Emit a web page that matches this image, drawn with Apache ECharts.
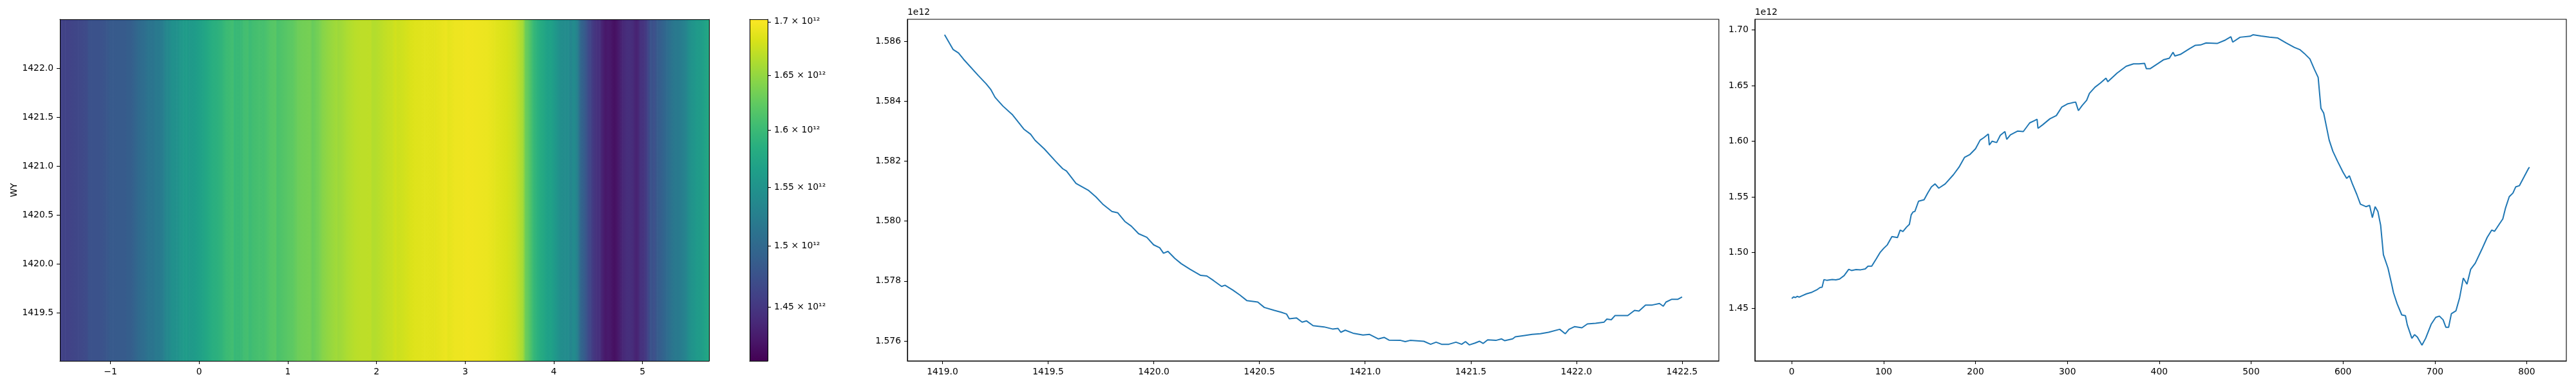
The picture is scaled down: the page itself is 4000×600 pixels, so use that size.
<!DOCTYPE html>
<html><head><meta charset="utf-8">
<script src="https://cdn.jsdelivr.net/npm/echarts@6/dist/echarts.min.js"></script>
<style>html,body{margin:0;padding:0;background:#fff}#c{width:4000px;height:600px}</style>
</head><body><div id="c"></div>
<script>
// ---- Column profile (right panel; also the heatmap's columns) ----
const colIndex = [0,2,4,6,8,11,16,22,27,31,33,35,38,44,48,52,57,62,65,70,75,80,83,87,92,96,100,104,109,113,115,118,121,125,128,130,132,134,138,144,148,152,156,160,167,176,182,188,194,200,205,209,214,215,218,223,227,232,234,238,246,252,259,264,267,268,273,281,288,294,300,305,309,312,316,321,324,330,336,342,344,354,364,372,378,384,386,390,399,405,411,415,417,423,433,439,445,451,463,472,478,480,488,499,502,511,520,529,538,547,553,558,564,569,573,576,579,585,589,594,600,604,607,610,615,619,625,629,632,635,638,641,644,649,653,655,656,659,664,668,670,675,678,681,686,690,696,701,705,709,712,715,718,723,727,731,735,739,744,751,757,762,765,770,774,777,781,785,788,792,797,802,803];
const colValues = [1.4588e12,1.4603e12,1.4597e12,1.4608e12,1.4600e12,1.4612e12,1.4630e12,1.4645e12,1.4665e12,1.4688e12,1.4690e12,1.4758e12,1.4752e12,1.4758e12,1.4756e12,1.4763e12,1.4794e12,1.4850e12,1.4840e12,1.4848e12,1.4846e12,1.4854e12,1.4878e12,1.4878e12,1.4945e12,1.5000e12,1.5038e12,1.5070e12,1.5144e12,1.5138e12,1.5135e12,1.5203e12,1.5190e12,1.5230e12,1.5254e12,1.5340e12,1.5365e12,1.5370e12,1.5462e12,1.5475e12,1.5535e12,1.5590e12,1.5617e12,1.5579e12,1.5617e12,1.5700e12,1.5767e12,1.5855e12,1.5882e12,1.5933e12,1.6010e12,1.6032e12,1.6065e12,1.5966e12,1.6000e12,1.5988e12,1.6054e12,1.6087e12,1.6017e12,1.6058e12,1.6092e12,1.6087e12,1.6165e12,1.6185e12,1.6198e12,1.6116e12,1.6147e12,1.6202e12,1.6231e12,1.6308e12,1.6335e12,1.6345e12,1.6352e12,1.6275e12,1.6320e12,1.6368e12,1.6430e12,1.6485e12,1.6523e12,1.6567e12,1.6535e12,1.6611e12,1.6673e12,1.6695e12,1.6695e12,1.6700e12,1.6651e12,1.6651e12,1.6700e12,1.6733e12,1.6746e12,1.6799e12,1.6766e12,1.6780e12,1.6832e12,1.6861e12,1.6865e12,1.6883e12,1.6878e12,1.6909e12,1.6938e12,1.6890e12,1.6934e12,1.6943e12,1.6956e12,1.6945e12,1.6935e12,1.6927e12,1.6883e12,1.6843e12,1.6823e12,1.6788e12,1.6739e12,1.6644e12,1.6573e12,1.6297e12,1.6253e12,1.6010e12,1.5910e12,1.5822e12,1.5723e12,1.5667e12,1.5690e12,1.5623e12,1.5524e12,1.5435e12,1.5413e12,1.5424e12,1.5314e12,1.5413e12,1.5370e12,1.5247e12,1.4982e12,1.4861e12,1.4717e12,1.4640e12,1.4651e12,1.4540e12,1.4441e12,1.4434e12,1.4352e12,1.4231e12,1.4264e12,1.4242e12,1.4169e12,1.4231e12,1.4357e12,1.4419e12,1.4430e12,1.4397e12,1.4330e12,1.4330e12,1.4452e12,1.4478e12,1.4596e12,1.4772e12,1.4717e12,1.4850e12,1.4905e12,1.5027e12,1.5137e12,1.5203e12,1.5192e12,1.5254e12,1.5303e12,1.5402e12,1.5502e12,1.5535e12,1.5590e12,1.5601e12,1.5678e12,1.5756e12,1.5767e12];
const colCount = 804;

// ---- Row profile (middle panel) ----
const rowCoord = [1419.01,1419.05,1419.076,1419.10,1419.168,1419.207,1419.228,1419.249,1419.286,1419.33,1419.385,1419.417,1419.438,1419.482,1419.535,1419.569,1419.587,1419.632,1419.692,1419.726,1419.758,1419.802,1419.829,1419.863,1419.894,1419.928,1419.967,1419.999,1420.028,1420.046,1420.067,1420.099,1420.13,1420.172,1420.222,1420.251,1420.282,1420.321,1420.337,1420.374,1420.408,1420.44,1420.492,1420.523,1420.571,1420.602,1420.628,1420.641,1420.675,1420.702,1420.723,1420.754,1420.806,1420.846,1420.872,1420.885,1420.906,1420.943,1420.99,1421.021,1421.063,1421.09,1421.113,1421.168,1421.19,1421.213,1421.278,1421.31,1421.336,1421.362,1421.396,1421.43,1421.457,1421.475,1421.493,1421.52,1421.541,1421.559,1421.58,1421.619,1421.646,1421.661,1421.698,1421.711,1421.75,1421.79,1421.829,1421.868,1421.921,1421.947,1421.965,1421.992,1422.026,1422.052,1422.091,1422.131,1422.144,1422.165,1422.183,1422.243,1422.275,1422.296,1422.327,1422.359,1422.393,1422.411,1422.424,1422.45,1422.479,1422.5];
const rowValues = [1.58622e12,1.58573e12,1.58561e12,1.58540e12,1.58487e12,1.58458e12,1.58440e12,1.58413e12,1.58384e12,1.58356e12,1.58307e12,1.58290e12,1.58270e12,1.58241e12,1.58200e12,1.58175e12,1.58167e12,1.58126e12,1.58102e12,1.58081e12,1.58057e12,1.58032e12,1.58028e12,1.57999e12,1.57983e12,1.57958e12,1.57946e12,1.57921e12,1.57911e12,1.57893e12,1.57899e12,1.57876e12,1.57858e12,1.57839e12,1.57819e12,1.57817e12,1.57802e12,1.57782e12,1.57786e12,1.57770e12,1.57753e12,1.57735e12,1.57730e12,1.57712e12,1.57702e12,1.57696e12,1.57690e12,1.57674e12,1.57677e12,1.57663e12,1.57667e12,1.57651e12,1.57647e12,1.57640e12,1.57642e12,1.57629e12,1.57636e12,1.57626e12,1.57620e12,1.57622e12,1.57607e12,1.57612e12,1.57603e12,1.57602e12,1.57598e12,1.57602e12,1.57599e12,1.57589e12,1.57596e12,1.57589e12,1.57589e12,1.57596e12,1.57589e12,1.57598e12,1.57587e12,1.57593e12,1.57599e12,1.57592e12,1.57604e12,1.57602e12,1.57607e12,1.57601e12,1.57607e12,1.57614e12,1.57618e12,1.57622e12,1.57624e12,1.57629e12,1.57639e12,1.57624e12,1.57639e12,1.57648e12,1.57644e12,1.57657e12,1.57659e12,1.57663e12,1.57673e12,1.57671e12,1.57685e12,1.57685e12,1.57702e12,1.57700e12,1.57720e12,1.57720e12,1.57725e12,1.57716e12,1.57730e12,1.57739e12,1.57739e12,1.57747e12];

// ---- Tick labels ----
const heatXTicks = [-1,0,1,2,3,4,5];
const heatYTicks = [1419.5,1420.0,1420.5,1421.0,1421.5,1422.0];
const cbTicks = [1.45e12,1.5e12,1.55e12,1.6e12,1.65e12,1.7e12];
const midXTicks = [1419.0,1419.5,1420.0,1420.5,1421.0,1421.5,1422.0,1422.5];
const midYTicks = [1.576e12,1.578e12,1.580e12,1.582e12,1.584e12,1.586e12];
const rightXTicks = [0,100,200,300,400,500,600,700,800];
const rightYTicks = [1.45e12,1.50e12,1.55e12,1.60e12,1.65e12,1.70e12];

// ---- Extents ----
const heatXMin = -1.5708, heatXMax = 5.75;
const heatYMin = 1419.01, heatYMax = 1422.5;
const cbMin = 1.407e12, cbMax = 1.7023e12;
const lMin = Math.log10(cbMin), lMax = Math.log10(cbMax);

const VIR = ['#440154','#48186a','#472d7b','#424086','#3b528b','#33638d','#2c728e','#26828e','#21918c','#1fa088','#28ae80','#3fbc73','#5ec962','#84d44b','#addc30','#d8e219','#fde725'];
function hex2rgb(h){return [parseInt(h.slice(1,3),16),parseInt(h.slice(3,5),16),parseInt(h.slice(5,7),16)];}
function viridis(t){t=Math.max(0,Math.min(1,t));const s=t*(VIR.length-1);const i=Math.min(Math.floor(s),VIR.length-2);const f=s-i;const a=hex2rgb(VIR[i]),b=hex2rgb(VIR[i+1]);return 'rgb('+a.map((c,k)=>Math.round(c+(b[k]-c)*f)).join(',')+')';}
function norm(v){return (Math.log10(v)-lMin)/(lMax-lMin);}

const FONT = 'DejaVu Sans', FS = 13.9;
const lineStyle = {color:'#000', width:1.1};
function ax(gridIndex, position, min, max, ticks, fmt, extra){
  const o = {type:'value', gridIndex, position, min, max, z:10,
    axisLine:{show:true,onZero:false,lineStyle},
    axisTick:{show:!!ticks,inside:false,length:5,lineStyle,customValues:ticks||undefined},
    axisLabel:{show:!!ticks,color:'#000',fontFamily:FONT,fontSize:FS,margin:10,customValues:ticks||undefined,formatter:fmt},
    splitLine:{show:false}};
  return Object.assign(o, extra||{});
}
function minusFmt(v){const s=String(Math.round(v));return v<0?'\u2212'+s.slice(1):s;}

// heatmap segments built from column profile
const hx = i => heatXMin + (i+0.5)/colCount*(heatXMax-heatXMin);
const heatData = [];
heatData.push([heatXMin, heatYMin, hx(colIndex[0]), colValues[0], colValues[0]]);
for (let i=0;i<colIndex.length-1;i++) heatData.push([hx(colIndex[i]), heatYMin, hx(colIndex[i+1]), colValues[i], colValues[i+1]]);
heatData.push([hx(colIndex[colIndex.length-1]), heatYMin, heatXMax, colValues[colValues.length-1], colValues[colValues.length-1]]);

const chart = echarts.init(document.getElementById('c'));
chart.setOption({
  animation:false,
  backgroundColor:'#fff',
  textStyle:{fontFamily:FONT},
  grid:[
    {left:93, top:30, width:1008, height:531},
    {left:1164, top:30, width:28, height:531},
    {left:1409, top:30, width:1260, height:531, show:true, borderColor:'#000', borderWidth:1.1, backgroundColor:'transparent'},
    {left:2725, top:30, width:1260, height:531, show:true, borderColor:'#000', borderWidth:1.1, backgroundColor:'transparent'}
  ],
  xAxis:[
    ax(0,'bottom',heatXMin,heatXMax,heatXTicks,minusFmt),
    ax(0,'top',heatXMin,heatXMax,null),
    ax(1,'bottom',0,1,null),
    ax(1,'top',0,1,null),
    ax(2,'bottom',1418.834,1422.674,midXTicks,v=>v.toFixed(1)),
    ax(3,'bottom',-40.15,843.15,rightXTicks,v=>String(Math.round(v)))
  ],
  yAxis:[
    ax(0,'left',heatYMin,heatYMax,heatYTicks,v=>v.toFixed(1),{name:'WY',nameLocation:'middle',nameGap:64,nameTextStyle:{color:'#000',fontFamily:FONT,fontSize:FS}}),
    ax(0,'right',heatYMin,heatYMax,null),
    ax(1,'right',lMin,lMax,cbTicks.map(v=>Math.log10(v)),v=>(+(Math.pow(10,v)/1e12).toFixed(2))+' \u00d7 10\u00b9\u00b2'),
    ax(1,'left',lMin,lMax,null),
    ax(2,'left',1.575335e12,1.586736e12,midYTicks,v=>(v/1e12).toFixed(3),{name:'1e12',nameLocation:'end',nameGap:4,nameTextStyle:{color:'#000',fontFamily:FONT,fontSize:FS,align:'left',verticalAlign:'bottom'}}),
    ax(3,'left',1.4028e12,1.7095e12,rightYTicks,v=>(v/1e12).toFixed(2),{name:'1e12',nameLocation:'end',nameGap:4,nameTextStyle:{color:'#000',fontFamily:FONT,fontSize:FS,align:'left',verticalAlign:'bottom'}})
  ],
  series:[
    {type:'custom', xAxisIndex:0, yAxisIndex:0, data:heatData, encode:{x:[0,2], y:1}, clip:true, z:2,
     renderItem:function(params, api){
       const pA = api.coord([api.value(0), heatYMax]);
       const pB = api.coord([api.value(2), heatYMin]);
       return {type:'rect', shape:{x:pA[0], y:pA[1], width:pB[0]-pA[0]+0.7, height:pB[1]-pA[1]},
         style:{fill:new echarts.graphic.LinearGradient(0,0,1,0,[{offset:0,color:viridis(norm(api.value(3)))},{offset:1,color:viridis(norm(api.value(4)))}]), stroke:null}};
     }},
    {type:'custom', xAxisIndex:2, yAxisIndex:2, data:[[0,lMin,1,lMax]], encode:{x:[0,2], y:[1,3]}, z:2,
     renderItem:function(params, api){
       const pA = api.coord([api.value(0), api.value(3)]);
       const pB = api.coord([api.value(2), api.value(1)]);
       const stops = VIR.map((c,k)=>({offset:k/(VIR.length-1), color:VIR[VIR.length-1-k]}));
       return {type:'rect', shape:{x:pA[0], y:pA[1], width:pB[0]-pA[0], height:pB[1]-pA[1]},
         style:{fill:new echarts.graphic.LinearGradient(0,0,0,1,stops), stroke:null}};
     }},
    {type:'line', xAxisIndex:4, yAxisIndex:4, data:rowCoord.map((x,i)=>[x,rowValues[i]]), showSymbol:false, symbol:'none',
     lineStyle:{color:'#1f77b4', width:2}, z:3},
    {type:'line', xAxisIndex:5, yAxisIndex:5, data:colIndex.map((x,i)=>[x,colValues[i]]), showSymbol:false, symbol:'none',
     lineStyle:{color:'#1f77b4', width:2}, z:3}
  ]
});
</script></body></html>
